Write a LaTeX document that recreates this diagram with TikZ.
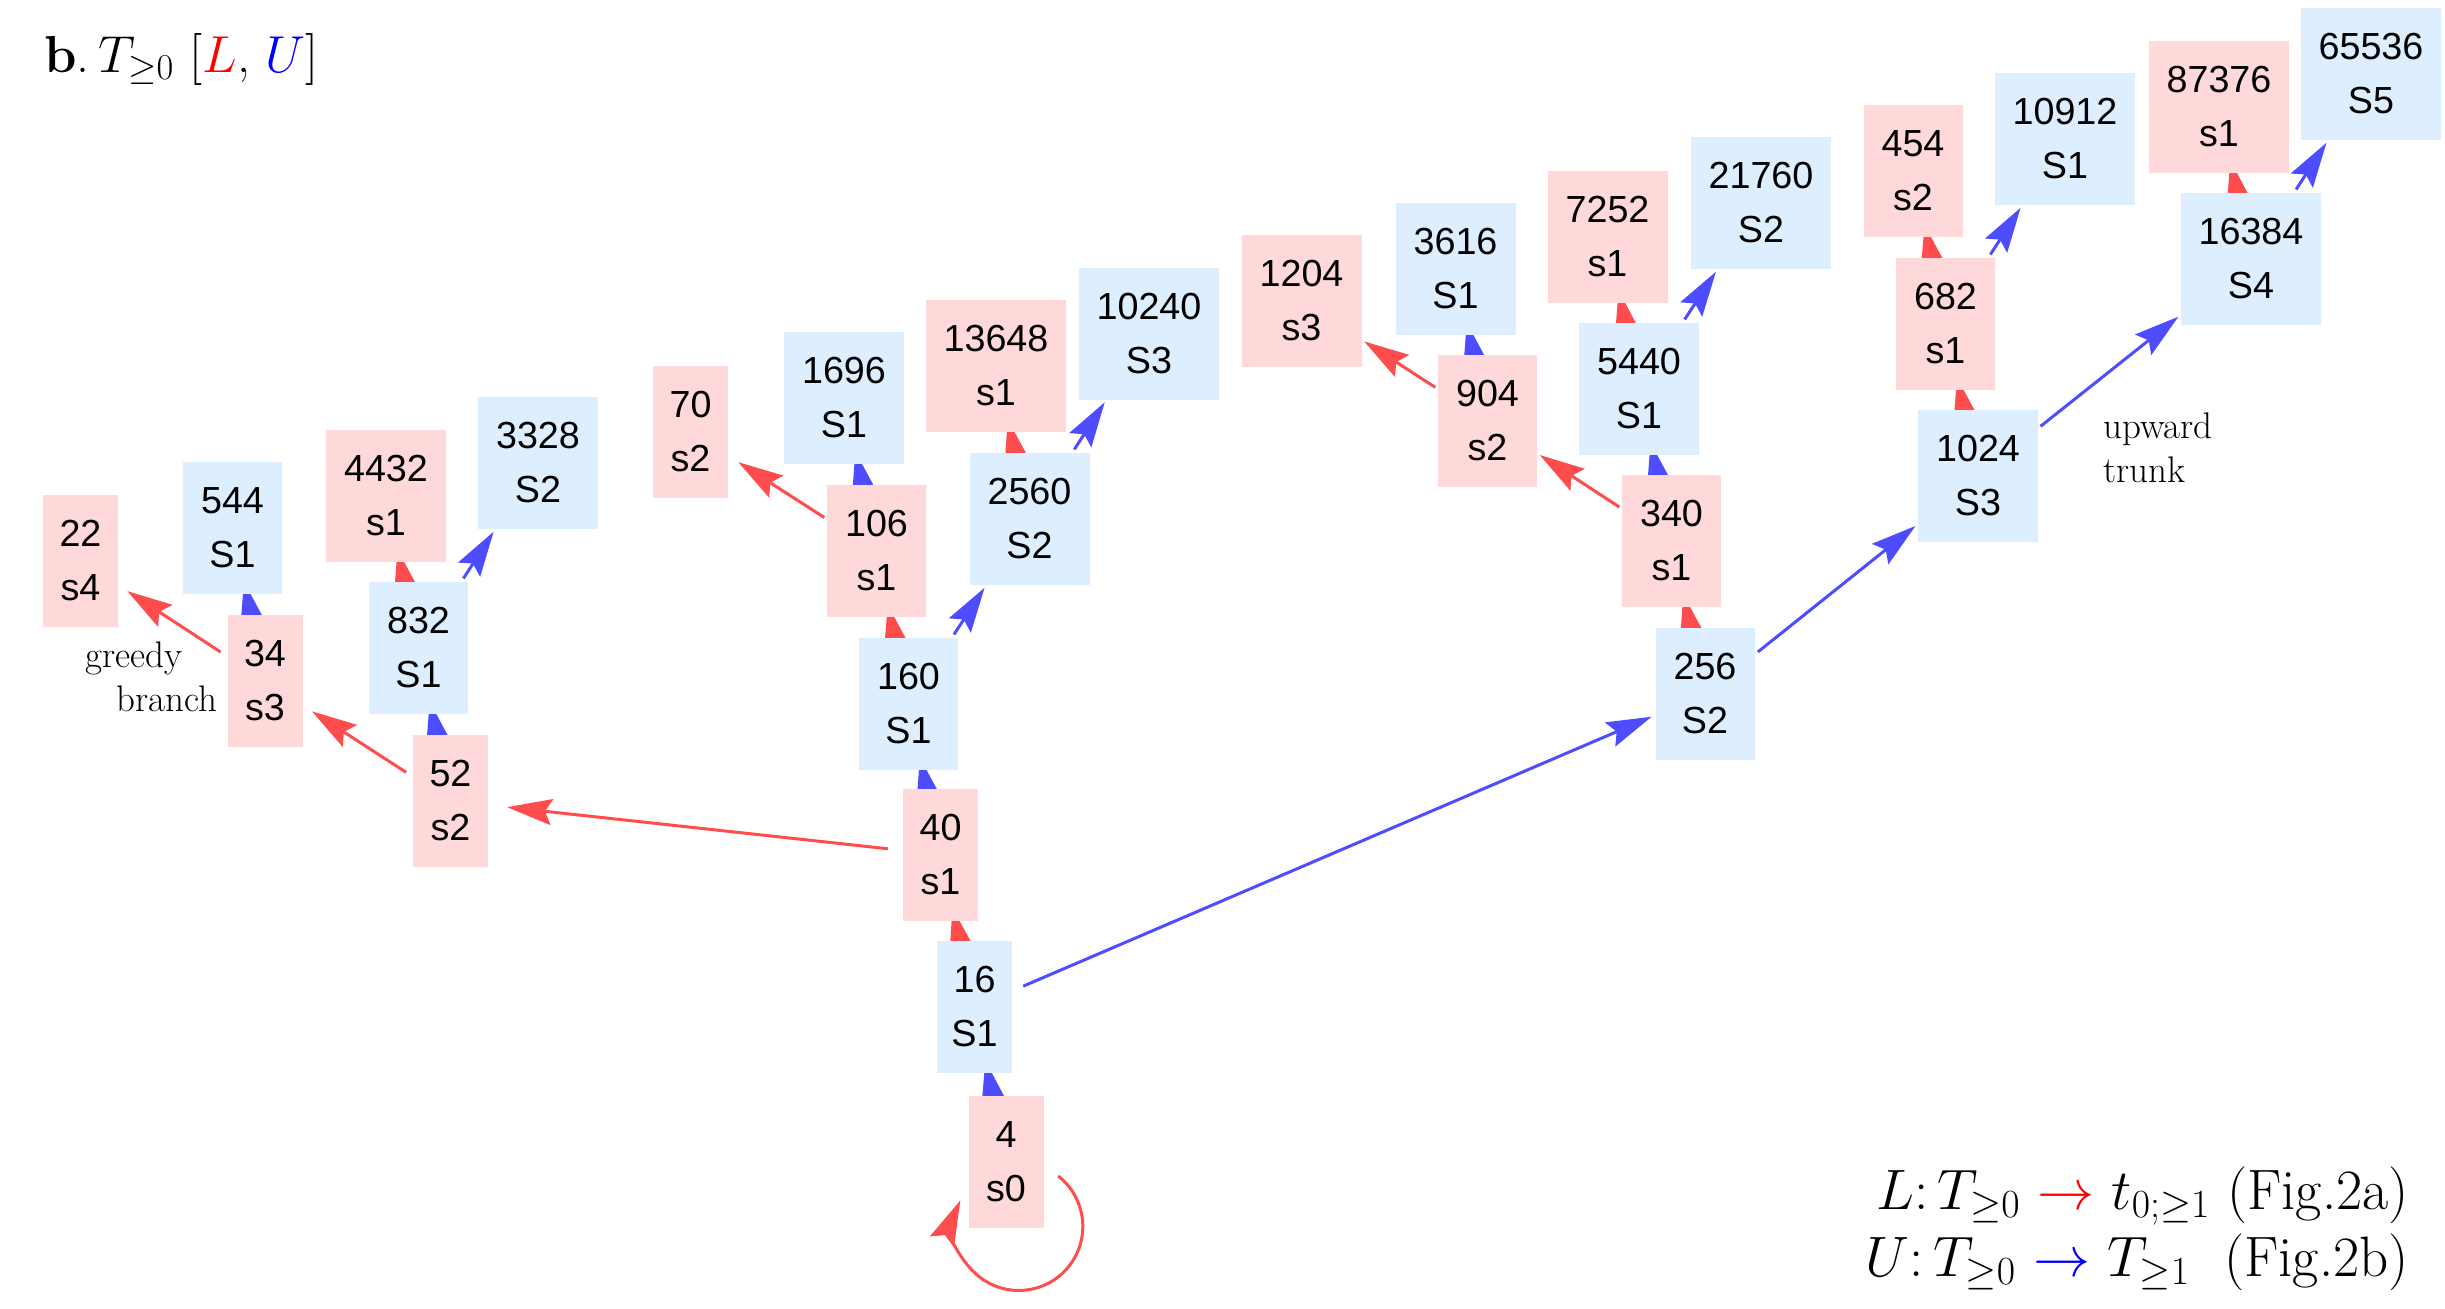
\RequirePackage{fix-cm}
\documentclass[tikz,border=0pt]{standalone}
\usepackage{fontspec}
\newfontfamily\nodefont{Liberation Sans}
\usetikzlibrary{arrows.meta}
\definecolor{pinkfill}{RGB}{255,217,217}
\definecolor{bluefill}{RGB}{221,238,255}
\definecolor{redarrow}{RGB}{255,77,77}
\definecolor{bluearrow}{RGB}{77,77,255}
\pgfdeclarelayer{bg}
\pgfsetlayers{bg,main}
\tikzset{
  box/.style={minimum height=132pt, inner sep=0pt, align=center,
    font=\nodefont\fontsize{37.7}{54}\selectfont},
  pn/.style={box, fill=pinkfill},
  bn/.style={box, fill=bluefill},
  wa/.style={minimum width=75pt},
  wb/.style={minimum width=99pt},
  wc/.style={minimum width=120pt},
  wd/.style={minimum width=140pt},
  tipstyle/.style={-{Stealth[length=45pt,width=26pt,inset=7pt]}},
  ra/.style={draw=redarrow, line width=3pt, tipstyle},
  ba/.style={draw=bluearrow, line width=3pt, tipstyle},
  upedge/.style={shorten >=-13pt},
  note/.style={font=\fontsize{37}{44}\selectfont, inner sep=0pt, align=left}
}
\begin{document}
\begin{tikzpicture}[x=1pt,y=-1pt]
\useasboundingbox (0,0) rectangle (2445,1309);
% nodes
\node[pn,wa] (n4) at (1006,1162) {4\\s0};
\node[bn,wa] (n16) at (974.5,1007) {16\\S1};
\node[pn,wa] (n40) at (940.5,854.5) {40\\s1};
\node[bn,wb] (n160) at (908.5,704) {160\\S1};
\node[pn,wb] (n106) at (876.5,551) {106\\s1};
\node[bn,wc] (n1696) at (844,398) {1696\\S1};
\node[pn,wa] (n70) at (690.5,431.5) {70\\s2};
\node[bn,wc] (n2560) at (1029.5,519) {2560\\S2};
\node[pn,wd] (n13648) at (996,366) {13648\\s1};
\node[bn,wd] (n10240) at (1149,333.5) {10240\\S3};
\node[pn,wa] (n52) at (450.5,801) {52\\s2};
\node[bn,wb] (n832) at (418.5,648) {832\\S1};
\node[pn,wc] (n4432) at (386,496) {4432\\s1};
\node[bn,wc] (n3328) at (538,463) {3328\\S2};
\node[pn,wa] (n34) at (265,681) {34\\s3};
\node[bn,wb] (n544) at (232.5,528) {544\\S1};
\node[pn,wa] (n22) at (80.5,560.5) {22\\s4};
\node[bn,wb] (n256) at (1705,694) {256\\S2};
\node[pn,wb] (n340) at (1671.5,541) {340\\s1};
\node[bn,wc] (n5440) at (1639,389) {5440\\S1};
\node[pn,wc] (n7252) at (1607.5,237) {7252\\s1};
\node[bn,wd] (n21760) at (1761,203) {21760\\S2};
\node[pn,wb] (n904) at (1487.5,421) {904\\s2};
\node[bn,wc] (n3616) at (1455.5,269) {3616\\S1};
\node[pn,wc] (n1204) at (1301.5,301) {1204\\s3};
\node[bn,wc] (n1024) at (1978,476) {1024\\S3};
\node[pn,wb] (n682) at (1945.5,324) {682\\s1};
\node[pn,wb] (n454) at (1913,171) {454\\s2};
\node[bn,wd] (n10912) at (2065,139) {10912\\S1};
\node[bn,wd] (n16384) at (2251,259) {16384\\S4};
\node[pn,wd] (n87376) at (2219,107) {87376\\s1};
\node[bn,wd] (n65536) at (2371,74) {65536\\S5};
% texts
\node[anchor=base west, inner sep=0pt] (title) at (44,72)
  {\fontsize{52}{60}\selectfont\textbf{b}.\,$T_{\geq 0}$ [$\textcolor{red}{L}$, $\textcolor{blue}{U}$]};
\node[note, anchor=base west] (greedy) at (85,711) {greedy\\\hspace*{31pt}branch};
\node[note, anchor=base west] (trunk) at (2103,482) {upward\\trunk};
\node[anchor=base east, inner sep=0pt, align=right, font=\fontsize{57}{67}\selectfont] (legend) at (2409,1276)
  {$L\colon T_{\geq 0}$ $\textcolor{red}{\rightarrow}$ $t_{0;\geq 1}$ (Fig.2a)\\
   $U\colon T_{\geq 0}$ $\textcolor{blue}{\rightarrow}$ $T_{\geq 1}$\ \ (Fig.2b)};
% edges
\begin{pgfonlayer}{bg}
\draw[ba, upedge] (n4.center) -- (n16);
\draw[ra, upedge] (n16.center) -- (n40);
\draw[ba, upedge] (n40.center) -- (n160);
\draw[ra, upedge] (n160.center) -- (n106);
\draw[ba, upedge] (n106.center) -- (n1696);
\draw[ra, upedge] (n2560.center) -- (n13648);
\draw[ba, upedge] (n52.center) -- (n832);
\draw[ra, upedge] (n832.center) -- (n4432);
\draw[ba, upedge] (n34.center) -- (n544);
\draw[ra, upedge] (n256.center) -- (n340);
\draw[ba, upedge] (n340.center) -- (n5440);
\draw[ba, upedge] (n904.center) -- (n3616);
\draw[ra, upedge] (n5440.center) -- (n7252);
\draw[ra, upedge] (n1024.center) -- (n682);
\draw[ra, upedge] (n682.center) -- (n454);
\draw[ra, upedge] (n16384.center) -- (n87376);
\end{pgfonlayer}
\draw[ra, shorten <=15pt, shorten >=19pt] (n40) -- (n52);
\draw[ra, shorten <=8pt, shorten >=11pt] (n52) -- (n34);
\draw[ra, shorten <=8pt, shorten >=11pt] (n34) -- (n22);
\draw[ra, shorten <=3pt, shorten >=12pt] (n106) -- (n70);
\draw[ra, shorten <=3pt, shorten >=3pt] (n904) -- (n1204);
\draw[ra, shorten <=3pt, shorten >=3pt] (n340) -- (n904);
\draw[ba, shorten <=12pt, shorten >=4pt] (n16) -- (n256);
\draw[ba, shorten <=4pt, shorten >=3pt] (n256) -- (n1024);
\draw[ba, shorten <=3pt, shorten >=3pt] (n1024) -- (n16384);
\draw[ba, shorten <=4pt, shorten >=3pt] (n160) -- (n2560);
\draw[ba, shorten <=4pt, shorten >=3pt] (n2560) -- (n10240);
\draw[ba, shorten <=4pt, shorten >=3pt] (n832) -- (n3328);
\draw[ba, shorten <=4pt, shorten >=3pt] (n5440) -- (n21760);
\draw[ba, shorten <=4pt, shorten >=3pt] (n682) -- (n10912);
\draw[ba, shorten <=4pt, shorten >=3pt] (n16384) -- (n65536);
\draw[ra] ([shift={(14.5,14)}]n4.east) arc[start angle=-52, end angle=204, radius=64];
\end{tikzpicture}
\end{document}
